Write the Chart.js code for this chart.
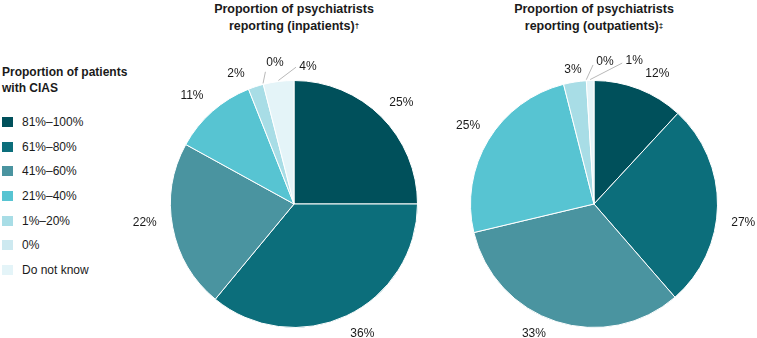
<!DOCTYPE html>
<html><head><meta charset="utf-8">
<script src="https://cdn.jsdelivr.net/npm/chart.js@4.4.1/dist/chart.umd.min.js"></script>
<style>
html,body{margin:0;padding:0;background:#fff;}
body{width:757px;height:338px;position:relative;overflow:hidden;font-family:"Liberation Sans",Arial,sans-serif;color:#1a1a1a;}
canvas{position:absolute;top:0;}
.title{position:absolute;top:1px;width:300px;text-align:center;font-weight:bold;font-size:12.5px;line-height:17px;}
.title sup{font-size:8px;vertical-align:top;position:relative;top:-1px;}
#legend{position:absolute;left:2px;top:64px;}
#legend .lt{font-weight:bold;font-size:12px;line-height:16px;margin-bottom:14px;}
#legend .it{height:24.6px;display:flex;align-items:center;font-size:12px;}
#legend .sw{width:11px;height:10px;margin-right:9px;}
</style></head>
<body>
<div id="legend"></div>
<div class="title" id="t1" style="left:144px"></div>
<div class="title" id="t2" style="left:444px"></div>
<canvas id="c1" width="344" height="338" style="left:100px;width:344px;height:338px"></canvas>
<canvas id="c2" width="313" height="338" style="left:444px;width:313px;height:338px"></canvas>
<script>
const categories = ["81%–100%","61%–80%","41%–60%","21%–40%","1%–20%","0%","Do not know"];
const inpatients = [25,36,22,11,2,0,4];
const outpatients = [12,27,33,25,3,0,1];
const legendTitle = "Proportion of patients with CIAS";
const title1 = ["Proportion of psychiatrists","reporting (inpatients)","†"];
const title2 = ["Proportion of psychiatrists","reporting (outpatients)","‡"];
const colors = ["#00505b","#0c6e7b","#4a94a0","#57c4d2","#a8dde6","#cde9f0","#e4f4f8"];

// label placement styles
const style1 = {angleAdj:[1.7,-2.6,3.5,-2,-6,6.7,13], radOff:[24,23,27,25,19,19,15],
  leader:[null,null,null,null,null,[-9.5,9],[-12,1]]};
const style2 = {angleAdj:[4.6,6.4,7.1,0.8,0,8,17.5], radOff:[21,27,19,25,12,19,25],
  leader:[null,null,null,null,null,[-12,3],[-12,2]]};

// legend
const lg = document.getElementById('legend');
lg.innerHTML = '<div class="lt">Proportion of patients<br>with CIAS</div>' +
  categories.map((c,i)=>`<div class="it"><span class="sw" style="background:${colors[i]}"></span>${c}</div>`).join('');
document.getElementById('t1').innerHTML = title1[0]+'<br>'+title1[1]+'<sup>'+title1[2]+'</sup>';
document.getElementById('t2').innerHTML = title2[0]+'<br>'+title2[1]+'<sup>'+title2[2]+'</sup>';

const labelPlugin = {
  id:'sliceLabels',
  afterDatasetsDraw(chart, args, opts){
    const ctx = chart.ctx;
    const meta = chart.getDatasetMeta(0);
    const data = chart.data.datasets[0].data;
    ctx.save();
    ctx.font = '12px "Liberation Sans", Arial, sans-serif';
    ctx.fillStyle = '#1a1a1a';
    ctx.textAlign = 'center';
    ctx.textBaseline = 'middle';
    meta.data.forEach((arc,i)=>{
      const p = arc.getProps(['x','y','startAngle','endAngle','outerRadius'], true);
      const mid = (p.startAngle + p.endAngle)/2;
      const a = mid + opts.angleAdj[i]*Math.PI/180;
      const d = p.outerRadius + opts.radOff[i];
      const lx = p.x + Math.cos(a)*d, ly = p.y + Math.sin(a)*d;
      ctx.fillText(data[i] + '%', lx, ly);
      const ld = opts.leader[i];
      if (ld){
        ctx.beginPath();
        ctx.strokeStyle = '#b8b8b8';
        ctx.lineWidth = 1;
        ctx.moveTo(p.x + Math.cos(mid)*(p.outerRadius+1), p.y + Math.sin(mid)*(p.outerRadius+1));
        ctx.lineTo(lx + ld[0], ly + ld[1]);
        ctx.stroke();
      }
    });
    ctx.restore();
  }
};

function makePie(id, values, st, pad){
  return new Chart(document.getElementById(id), {
    type:'pie',
    data:{labels:categories, datasets:[{data:values, backgroundColor:colors, borderColor:'#ffffff', borderWidth:1}]},
    options:{
      responsive:false, animation:false, devicePixelRatio:1,
      layout:{padding:pad},
      plugins:{legend:{display:false}, tooltip:{enabled:false}, sliceLabels:st}
    },
    plugins:[labelPlugin]
  });
}
makePie('c1', inpatients, style1, {top:80,bottom:10,left:70,right:26});
makePie('c2', outpatients, style2, {top:80,bottom:10,left:26,right:39});
</script>
</body></html>
